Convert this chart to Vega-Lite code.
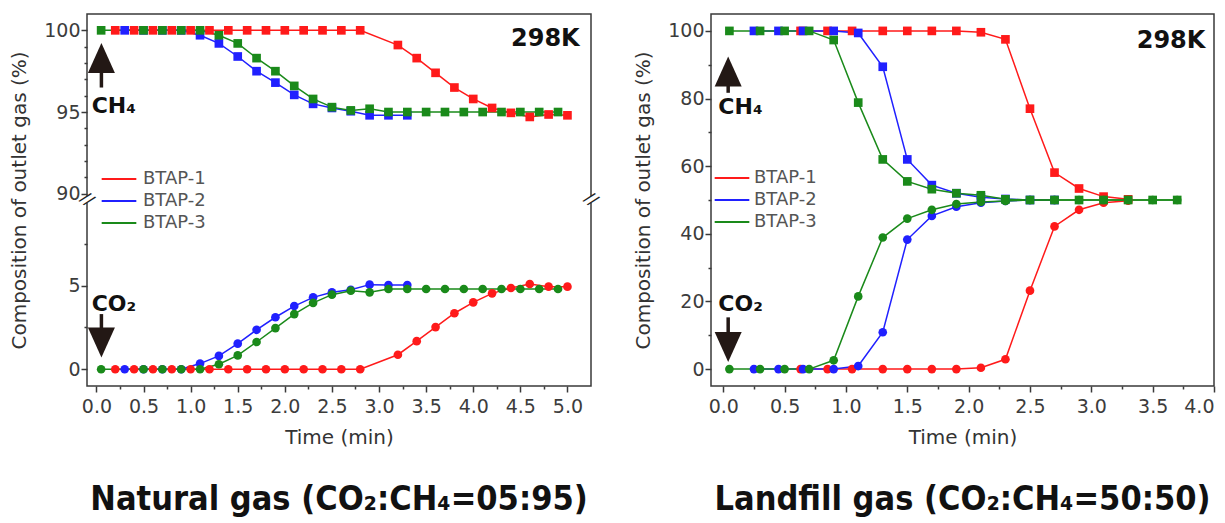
{
  "$schema": "https://vega.github.io/schema/vega-lite/v6.json",
  "background": "white",
  "padding": {"left": 8, "top": 13, "right": 10, "bottom": 5},
  "config": {
    "font": "DejaVu Sans",
    "view": {"stroke": "#3a3a3a", "strokeWidth": 1.5},
    "axis": {"domain": false, "grid": false, "labelFont": "DejaVu Sans", "labelFontSize": 19, "labelColor": "#3c3c3c", "titleFont": "DejaVu Sans", "titleFontSize": 20, "titleFontWeight": "normal", "titleColor": "#333333", "tickColor": "#3a3a3a", "tickWidth": 1.5},
    "title": {"font": "Liberation Sans Narrow, Arial Narrow, DejaVu Sans Condensed, Liberation Sans", "fontSize": 34, "fontWeight": "bold", "color": "#111111"}
  },
  "datasets": {
    "natural": [
      {"s":"BTAP-1","g":"CH4","t":0.2,"v":100},{"s":"BTAP-1","g":"CH4","t":0.4,"v":100},{"s":"BTAP-1","g":"CH4","t":0.6,"v":100},{"s":"BTAP-1","g":"CH4","t":0.8,"v":100},{"s":"BTAP-1","g":"CH4","t":1.0,"v":100},{"s":"BTAP-1","g":"CH4","t":1.2,"v":100},{"s":"BTAP-1","g":"CH4","t":1.4,"v":100},{"s":"BTAP-1","g":"CH4","t":1.6,"v":100},{"s":"BTAP-1","g":"CH4","t":1.8,"v":100},{"s":"BTAP-1","g":"CH4","t":2.0,"v":100},{"s":"BTAP-1","g":"CH4","t":2.2,"v":100},{"s":"BTAP-1","g":"CH4","t":2.4,"v":100},{"s":"BTAP-1","g":"CH4","t":2.6,"v":100},{"s":"BTAP-1","g":"CH4","t":2.8,"v":100},{"s":"BTAP-1","g":"CH4","t":3.2,"v":99.1},{"s":"BTAP-1","g":"CH4","t":3.4,"v":98.3},{"s":"BTAP-1","g":"CH4","t":3.6,"v":97.4},{"s":"BTAP-1","g":"CH4","t":3.8,"v":96.5},{"s":"BTAP-1","g":"CH4","t":4.0,"v":95.8},{"s":"BTAP-1","g":"CH4","t":4.2,"v":95.25},{"s":"BTAP-1","g":"CH4","t":4.4,"v":94.95},{"s":"BTAP-1","g":"CH4","t":4.6,"v":94.7},{"s":"BTAP-1","g":"CH4","t":4.8,"v":94.85},{"s":"BTAP-1","g":"CH4","t":5.0,"v":94.8},
      {"s":"BTAP-1","g":"CO2","t":0.2,"v":0},{"s":"BTAP-1","g":"CO2","t":0.4,"v":0},{"s":"BTAP-1","g":"CO2","t":0.6,"v":0},{"s":"BTAP-1","g":"CO2","t":0.8,"v":0},{"s":"BTAP-1","g":"CO2","t":1.0,"v":0},{"s":"BTAP-1","g":"CO2","t":1.2,"v":0},{"s":"BTAP-1","g":"CO2","t":1.4,"v":0},{"s":"BTAP-1","g":"CO2","t":1.6,"v":0},{"s":"BTAP-1","g":"CO2","t":1.8,"v":0},{"s":"BTAP-1","g":"CO2","t":2.0,"v":0},{"s":"BTAP-1","g":"CO2","t":2.2,"v":0},{"s":"BTAP-1","g":"CO2","t":2.4,"v":0},{"s":"BTAP-1","g":"CO2","t":2.6,"v":0},{"s":"BTAP-1","g":"CO2","t":2.8,"v":0},{"s":"BTAP-1","g":"CO2","t":3.2,"v":0.87},{"s":"BTAP-1","g":"CO2","t":3.4,"v":1.68},{"s":"BTAP-1","g":"CO2","t":3.6,"v":2.52},{"s":"BTAP-1","g":"CO2","t":3.8,"v":3.35},{"s":"BTAP-1","g":"CO2","t":4.0,"v":4.0},{"s":"BTAP-1","g":"CO2","t":4.2,"v":4.54},{"s":"BTAP-1","g":"CO2","t":4.4,"v":4.86},{"s":"BTAP-1","g":"CO2","t":4.6,"v":5.1},{"s":"BTAP-1","g":"CO2","t":4.8,"v":4.94},{"s":"BTAP-1","g":"CO2","t":5.0,"v":4.94},
      {"s":"BTAP-2","g":"CH4","t":0.3,"v":100},{"s":"BTAP-2","g":"CH4","t":0.5,"v":100},{"s":"BTAP-2","g":"CH4","t":0.7,"v":100},{"s":"BTAP-2","g":"CH4","t":0.9,"v":100},{"s":"BTAP-2","g":"CH4","t":1.1,"v":99.7},{"s":"BTAP-2","g":"CH4","t":1.3,"v":99.2},{"s":"BTAP-2","g":"CH4","t":1.5,"v":98.4},{"s":"BTAP-2","g":"CH4","t":1.7,"v":97.5},{"s":"BTAP-2","g":"CH4","t":1.9,"v":96.8},{"s":"BTAP-2","g":"CH4","t":2.1,"v":96.05},{"s":"BTAP-2","g":"CH4","t":2.3,"v":95.5},{"s":"BTAP-2","g":"CH4","t":2.5,"v":95.25},{"s":"BTAP-2","g":"CH4","t":2.7,"v":95.05},{"s":"BTAP-2","g":"CH4","t":2.9,"v":94.8},{"s":"BTAP-2","g":"CH4","t":3.1,"v":94.8},{"s":"BTAP-2","g":"CH4","t":3.3,"v":94.8},
      {"s":"BTAP-2","g":"CO2","t":0.3,"v":0},{"s":"BTAP-2","g":"CO2","t":0.5,"v":0},{"s":"BTAP-2","g":"CO2","t":0.7,"v":0},{"s":"BTAP-2","g":"CO2","t":0.9,"v":0},{"s":"BTAP-2","g":"CO2","t":1.1,"v":0.34},{"s":"BTAP-2","g":"CO2","t":1.3,"v":0.8},{"s":"BTAP-2","g":"CO2","t":1.5,"v":1.53},{"s":"BTAP-2","g":"CO2","t":1.7,"v":2.36},{"s":"BTAP-2","g":"CO2","t":1.9,"v":3.11},{"s":"BTAP-2","g":"CO2","t":2.1,"v":3.78},{"s":"BTAP-2","g":"CO2","t":2.3,"v":4.3},{"s":"BTAP-2","g":"CO2","t":2.5,"v":4.6},{"s":"BTAP-2","g":"CO2","t":2.7,"v":4.75},{"s":"BTAP-2","g":"CO2","t":2.9,"v":5.06},{"s":"BTAP-2","g":"CO2","t":3.1,"v":5.04},{"s":"BTAP-2","g":"CO2","t":3.3,"v":5.04},
      {"s":"BTAP-3","g":"CH4","t":0.05,"v":100},{"s":"BTAP-3","g":"CH4","t":0.5,"v":100},{"s":"BTAP-3","g":"CH4","t":0.7,"v":100},{"s":"BTAP-3","g":"CH4","t":0.9,"v":100},{"s":"BTAP-3","g":"CH4","t":1.1,"v":100},{"s":"BTAP-3","g":"CH4","t":1.3,"v":99.7},{"s":"BTAP-3","g":"CH4","t":1.5,"v":99.2},{"s":"BTAP-3","g":"CH4","t":1.7,"v":98.3},{"s":"BTAP-3","g":"CH4","t":1.9,"v":97.5},{"s":"BTAP-3","g":"CH4","t":2.1,"v":96.6},{"s":"BTAP-3","g":"CH4","t":2.3,"v":95.8},{"s":"BTAP-3","g":"CH4","t":2.5,"v":95.3},{"s":"BTAP-3","g":"CH4","t":2.7,"v":95.1},{"s":"BTAP-3","g":"CH4","t":2.9,"v":95.2},{"s":"BTAP-3","g":"CH4","t":3.1,"v":95.0},{"s":"BTAP-3","g":"CH4","t":3.3,"v":95.0},{"s":"BTAP-3","g":"CH4","t":3.5,"v":95.0},{"s":"BTAP-3","g":"CH4","t":3.7,"v":95.0},{"s":"BTAP-3","g":"CH4","t":3.9,"v":95.0},{"s":"BTAP-3","g":"CH4","t":4.1,"v":95.0},{"s":"BTAP-3","g":"CH4","t":4.3,"v":95.0},{"s":"BTAP-3","g":"CH4","t":4.5,"v":95.0},{"s":"BTAP-3","g":"CH4","t":4.7,"v":95.0},{"s":"BTAP-3","g":"CH4","t":4.9,"v":95.0},
      {"s":"BTAP-3","g":"CO2","t":0.05,"v":0},{"s":"BTAP-3","g":"CO2","t":0.5,"v":0},{"s":"BTAP-3","g":"CO2","t":0.7,"v":0},{"s":"BTAP-3","g":"CO2","t":0.9,"v":0},{"s":"BTAP-3","g":"CO2","t":1.1,"v":0},{"s":"BTAP-3","g":"CO2","t":1.3,"v":0.3},{"s":"BTAP-3","g":"CO2","t":1.5,"v":0.83},{"s":"BTAP-3","g":"CO2","t":1.7,"v":1.63},{"s":"BTAP-3","g":"CO2","t":1.9,"v":2.46},{"s":"BTAP-3","g":"CO2","t":2.1,"v":3.3},{"s":"BTAP-3","g":"CO2","t":2.3,"v":3.97},{"s":"BTAP-3","g":"CO2","t":2.5,"v":4.46},{"s":"BTAP-3","g":"CO2","t":2.7,"v":4.7},{"s":"BTAP-3","g":"CO2","t":2.9,"v":4.6},{"s":"BTAP-3","g":"CO2","t":3.1,"v":4.8},{"s":"BTAP-3","g":"CO2","t":3.3,"v":4.8},{"s":"BTAP-3","g":"CO2","t":3.5,"v":4.8},{"s":"BTAP-3","g":"CO2","t":3.7,"v":4.8},{"s":"BTAP-3","g":"CO2","t":3.9,"v":4.8},{"s":"BTAP-3","g":"CO2","t":4.1,"v":4.8},{"s":"BTAP-3","g":"CO2","t":4.3,"v":4.8},{"s":"BTAP-3","g":"CO2","t":4.5,"v":4.8},{"s":"BTAP-3","g":"CO2","t":4.7,"v":4.8},{"s":"BTAP-3","g":"CO2","t":4.9,"v":4.8}
    ],
    "landfill": [
      {"s":"BTAP-1","g":"CH4","t":0.63,"v":100},{"s":"BTAP-1","g":"CH4","t":0.85,"v":100},{"s":"BTAP-1","g":"CH4","t":1.05,"v":100},{"s":"BTAP-1","g":"CH4","t":1.3,"v":100},{"s":"BTAP-1","g":"CH4","t":1.5,"v":100},{"s":"BTAP-1","g":"CH4","t":1.7,"v":100},{"s":"BTAP-1","g":"CH4","t":1.9,"v":100},{"s":"BTAP-1","g":"CH4","t":2.1,"v":99.6},{"s":"BTAP-1","g":"CH4","t":2.3,"v":97.5},{"s":"BTAP-1","g":"CH4","t":2.5,"v":77.0},{"s":"BTAP-1","g":"CH4","t":2.7,"v":58.1},{"s":"BTAP-1","g":"CH4","t":2.9,"v":53.4},{"s":"BTAP-1","g":"CH4","t":3.1,"v":51.0},{"s":"BTAP-1","g":"CH4","t":3.3,"v":50.2},
      {"s":"BTAP-1","g":"CO2","t":0.63,"v":0},{"s":"BTAP-1","g":"CO2","t":0.85,"v":0},{"s":"BTAP-1","g":"CO2","t":1.05,"v":0},{"s":"BTAP-1","g":"CO2","t":1.3,"v":0},{"s":"BTAP-1","g":"CO2","t":1.5,"v":0},{"s":"BTAP-1","g":"CO2","t":1.7,"v":0},{"s":"BTAP-1","g":"CO2","t":1.9,"v":0},{"s":"BTAP-1","g":"CO2","t":2.1,"v":0.4},{"s":"BTAP-1","g":"CO2","t":2.3,"v":2.9},{"s":"BTAP-1","g":"CO2","t":2.5,"v":23.2},{"s":"BTAP-1","g":"CO2","t":2.7,"v":42.2},{"s":"BTAP-1","g":"CO2","t":2.9,"v":47.1},{"s":"BTAP-1","g":"CO2","t":3.1,"v":49.2},{"s":"BTAP-1","g":"CO2","t":3.3,"v":49.8},
      {"s":"BTAP-2","g":"CH4","t":0.25,"v":100},{"s":"BTAP-2","g":"CH4","t":0.45,"v":100},{"s":"BTAP-2","g":"CH4","t":0.65,"v":100},{"s":"BTAP-2","g":"CH4","t":0.9,"v":100},{"s":"BTAP-2","g":"CH4","t":1.1,"v":99.4},{"s":"BTAP-2","g":"CH4","t":1.3,"v":89.4},{"s":"BTAP-2","g":"CH4","t":1.5,"v":62.0},{"s":"BTAP-2","g":"CH4","t":1.7,"v":54.4},{"s":"BTAP-2","g":"CH4","t":1.9,"v":52.0},{"s":"BTAP-2","g":"CH4","t":2.1,"v":50.8},{"s":"BTAP-2","g":"CH4","t":2.3,"v":50.3},{"s":"BTAP-2","g":"CH4","t":2.5,"v":50.0},{"s":"BTAP-2","g":"CH4","t":2.7,"v":50.0},
      {"s":"BTAP-2","g":"CO2","t":0.25,"v":0},{"s":"BTAP-2","g":"CO2","t":0.45,"v":0},{"s":"BTAP-2","g":"CO2","t":0.65,"v":0},{"s":"BTAP-2","g":"CO2","t":0.9,"v":0},{"s":"BTAP-2","g":"CO2","t":1.1,"v":0.9},{"s":"BTAP-2","g":"CO2","t":1.3,"v":10.9},{"s":"BTAP-2","g":"CO2","t":1.5,"v":38.3},{"s":"BTAP-2","g":"CO2","t":1.7,"v":45.3},{"s":"BTAP-2","g":"CO2","t":1.9,"v":48.0},{"s":"BTAP-2","g":"CO2","t":2.1,"v":49.2},{"s":"BTAP-2","g":"CO2","t":2.3,"v":49.7},{"s":"BTAP-2","g":"CO2","t":2.5,"v":50.0},{"s":"BTAP-2","g":"CO2","t":2.7,"v":50.0},
      {"s":"BTAP-3","g":"CH4","t":0.05,"v":100},{"s":"BTAP-3","g":"CH4","t":0.3,"v":100},{"s":"BTAP-3","g":"CH4","t":0.5,"v":100},{"s":"BTAP-3","g":"CH4","t":0.7,"v":100},{"s":"BTAP-3","g":"CH4","t":0.9,"v":97.3},{"s":"BTAP-3","g":"CH4","t":1.1,"v":78.8},{"s":"BTAP-3","g":"CH4","t":1.3,"v":62.0},{"s":"BTAP-3","g":"CH4","t":1.5,"v":55.5},{"s":"BTAP-3","g":"CH4","t":1.7,"v":53.2},{"s":"BTAP-3","g":"CH4","t":1.9,"v":52.0},{"s":"BTAP-3","g":"CH4","t":2.1,"v":51.4},{"s":"BTAP-3","g":"CH4","t":2.3,"v":50.2},{"s":"BTAP-3","g":"CH4","t":2.5,"v":50},{"s":"BTAP-3","g":"CH4","t":2.7,"v":50},{"s":"BTAP-3","g":"CH4","t":2.9,"v":50},{"s":"BTAP-3","g":"CH4","t":3.1,"v":50},{"s":"BTAP-3","g":"CH4","t":3.3,"v":50},{"s":"BTAP-3","g":"CH4","t":3.5,"v":50},{"s":"BTAP-3","g":"CH4","t":3.7,"v":50},
      {"s":"BTAP-3","g":"CO2","t":0.05,"v":0},{"s":"BTAP-3","g":"CO2","t":0.3,"v":0},{"s":"BTAP-3","g":"CO2","t":0.5,"v":0},{"s":"BTAP-3","g":"CO2","t":0.7,"v":0},{"s":"BTAP-3","g":"CO2","t":0.9,"v":2.6},{"s":"BTAP-3","g":"CO2","t":1.1,"v":21.5},{"s":"BTAP-3","g":"CO2","t":1.3,"v":38.9},{"s":"BTAP-3","g":"CO2","t":1.5,"v":44.5},{"s":"BTAP-3","g":"CO2","t":1.7,"v":47.1},{"s":"BTAP-3","g":"CO2","t":1.9,"v":48.8},{"s":"BTAP-3","g":"CO2","t":2.1,"v":49.4},{"s":"BTAP-3","g":"CO2","t":2.3,"v":49.7},{"s":"BTAP-3","g":"CO2","t":2.5,"v":50},{"s":"BTAP-3","g":"CO2","t":2.7,"v":50},{"s":"BTAP-3","g":"CO2","t":2.9,"v":50},{"s":"BTAP-3","g":"CO2","t":3.1,"v":50},{"s":"BTAP-3","g":"CO2","t":3.3,"v":50},{"s":"BTAP-3","g":"CO2","t":3.5,"v":50},{"s":"BTAP-3","g":"CO2","t":3.7,"v":50}
    ],
    "notesL": [
      {"kind":"temp","t":5.13,"v":99.5,"label":"298K"},
      {"kind":"gas","t":-0.05,"v":95.4,"label":"CH₄"},
      {"kind":"gas","t":-0.05,"v":3.9,"label":"CO₂"},
      {"kind":"stem","t":0.053,"v":96.5,"v2":97.8},
      {"kind":"stem","t":0.053,"v":3.3,"v2":2.2},
      {"kind":"up","t":0.053,"v":98.3},
      {"kind":"down","t":0.053,"v":1.6},
      {"kind":"brk","t":-0.1,"v":50},
      {"kind":"brk","t":5.25,"v":50}
    ],
    "notesR": [
      {"kind":"temp","t":3.93,"v":97,"label":"298K"},
      {"kind":"gas","t":-0.04,"v":77.6,"label":"CH₄"},
      {"kind":"gas","t":-0.04,"v":19.2,"label":"CO₂"},
      {"kind":"stem","t":0.04,"v":81.7,"v2":85.5},
      {"kind":"stem","t":0.04,"v":15.3,"v2":10.5},
      {"kind":"up","t":0.04,"v":88.0},
      {"kind":"down","t":0.04,"v":6.5}
    ]
  },
  "spacing": 30,
  "resolve": {"scale": {"x": "independent", "y": "independent", "color": "independent", "shape": "independent"}, "legend": {"color": "independent"}},
  "hconcat": [
    {
      "width": 504,
      "height": 372,
      "title": {"text": "Natural gas (CO₂:CH₄=05:95)", "orient": "bottom", "frame": "group", "anchor": "middle", "offset": 36},
      "encoding": {
        "x": {"field": "t", "type": "quantitative", "scale": {"domain": [-0.1, 5.25], "nice": false, "zero": false},
          "axis": {"title": "Time (min)", "values": [0,0.25,0.5,0.75,1,1.25,1.5,1.75,2,2.25,2.5,2.75,3,3.25,3.5,3.75,4,4.25,4.5,4.75,5],
            "labelExpr": "abs(datum.value*2 - round(datum.value*2)) < 0.01 ? format(datum.value, '.1f') : ''",
            "tickSize": {"condition": {"test": "abs(datum.value*2 - round(datum.value*2)) < 0.01", "value": 6}, "value": 3},
            "labelPadding": 5, "titlePadding": 11}},
        "y": {"field": "v", "type": "quantitative", "scale": {"domain": [-1, 10, 89.8, 101], "range": [372, 188, 183, 0], "nice": false, "zero": false},
          "axis": {"title": "Composition of outlet gas (%)", "values": [0,2.5,5,7.5,90,91,92,93,94,95,96,97,98,99,100],
            "labelExpr": "datum.value % 5 === 0 ? format(datum.value, 'd') : ''",
            "tickSize": {"condition": {"test": "datum.value % 5 === 0", "value": 6}, "value": 3},
            "labelPadding": 1, "titlePadding": 14}}
      },
      "layer": [
        {"data": {"name": "natural"}, "mark": {"type": "line", "strokeWidth": 1.5},
          "encoding": {"color": {"field": "s", "type": "nominal", "scale": {"domain": ["BTAP-1","BTAP-2","BTAP-3"], "range": ["#ff1a1a","#2020ff","#1a8a1a"]},
            "legend": {"orient": "none", "legendX": 22, "legendY": 155, "title": null, "symbolType": "M-2,0L2,0", "symbolSize": 300, "symbolStrokeWidth": 2, "labelFontSize": 18, "labelColor": "#555555", "labelFont": "DejaVu Sans", "labelOffset": 14, "rowPadding": 3}},
            "detail": {"field": "g"}}},
        {"data": {"name": "natural"}, "mark": {"type": "point", "filled": true, "opacity": 1, "size": 75},
          "encoding": {"color": {"field": "s", "type": "nominal", "scale": {"domain": ["BTAP-1","BTAP-2","BTAP-3"], "range": ["#ff1a1a","#2020ff","#1a8a1a"]},
            "legend": {"orient": "none", "legendX": 22, "legendY": 155, "title": null, "symbolType": "M-2,0L2,0", "symbolSize": 300, "symbolStrokeWidth": 2, "labelFontSize": 18, "labelColor": "#555555", "labelFont": "DejaVu Sans", "labelOffset": 14, "rowPadding": 3}},
            "shape": {"field": "g", "type": "nominal", "scale": {"domain": ["CH4","CO2"], "range": ["square","circle"]}, "legend": null}}},
        {"data": {"name": "notesL"}, "transform": [{"filter": "datum.kind === 'stem'"}], "mark": {"type": "rule", "strokeWidth": 3.5, "color": "#231815"}, "encoding": {"y2": {"field": "v2"}}},
        {"data": {"name": "notesL"}, "transform": [{"filter": "datum.kind === 'up'"}], "mark": {"type": "point", "filled": true, "opacity": 1, "color": "#231815", "size": 900, "shape": "M0,-1L0.9,1L-0.9,1Z"}, "encoding": {}},
        {"data": {"name": "notesL"}, "transform": [{"filter": "datum.kind === 'down'"}], "mark": {"type": "point", "filled": true, "opacity": 1, "color": "#231815", "size": 900, "shape": "M0,1L0.9,-1L-0.9,-1Z"}, "encoding": {}},
        {"data": {"name": "notesL"}, "transform": [{"filter": "datum.kind === 'gas'"}], "mark": {"type": "text", "align": "left", "baseline": "middle", "fontSize": 22, "fontWeight": "bold", "font": "DejaVu Sans", "color": "#111111"}, "encoding": {"text": {"field": "label"}}},
        {"data": {"name": "notesL"}, "transform": [{"filter": "datum.kind === 'temp'"}], "mark": {"type": "text", "align": "right", "baseline": "middle", "fontSize": 24, "fontWeight": "bold", "font": "DejaVu Sans", "color": "#111111"}, "encoding": {"text": {"field": "label"}}},
        {"data": {"name": "notesL"}, "transform": [{"filter": "datum.kind === 'brk'"}], "mark": {"type": "point", "filled": true, "opacity": 1, "color": "white", "size": 50, "shape": "square"}, "encoding": {}},
        {"data": {"name": "notesL"}, "transform": [{"filter": "datum.kind === 'brk'"}], "mark": {"type": "text", "align": "center", "baseline": "middle", "fontSize": 17, "angle": 40, "color": "#222222", "text": "//"}, "encoding": {}}
      ]
    },
    {
      "width": 503,
      "height": 372,
      "title": {"text": "Landfill gas (CO₂:CH₄=50:50)", "orient": "bottom", "frame": "group", "anchor": "middle", "offset": 36},
      "encoding": {
        "x": {"field": "t", "type": "quantitative", "scale": {"domain": [-0.1, 4.0], "nice": false, "zero": false},
          "axis": {"title": "Time (min)", "values": [0,0.25,0.5,0.75,1,1.25,1.5,1.75,2,2.25,2.5,2.75,3,3.25,3.5,3.75,4],
            "labelExpr": "abs(datum.value*2 - round(datum.value*2)) < 0.01 ? format(datum.value, '.1f') : ''",
            "tickSize": {"condition": {"test": "abs(datum.value*2 - round(datum.value*2)) < 0.01", "value": 6}, "value": 3},
            "labelPadding": 5, "titlePadding": 11}},
        "y": {"field": "v", "type": "quantitative", "scale": {"domain": [-5, 105], "nice": false, "zero": false},
          "axis": {"title": "Composition of outlet gas (%)", "values": [0,10,20,30,40,50,60,70,80,90,100],
            "labelExpr": "datum.value % 20 === 0 ? format(datum.value, 'd') : ''",
            "tickSize": {"condition": {"test": "datum.value % 20 === 0", "value": 6}, "value": 3},
            "labelPadding": 1, "titlePadding": 14}}
      },
      "layer": [
        {"data": {"name": "landfill"}, "mark": {"type": "line", "strokeWidth": 1.5},
          "encoding": {"color": {"field": "s", "type": "nominal", "scale": {"domain": ["BTAP-1","BTAP-2","BTAP-3"], "range": ["#ff1a1a","#2020ff","#1a8a1a"]},
            "legend": {"orient": "none", "legendX": 11, "legendY": 154, "title": null, "symbolType": "M-2,0L2,0", "symbolSize": 300, "symbolStrokeWidth": 2, "labelFontSize": 18, "labelColor": "#555555", "labelFont": "DejaVu Sans", "labelOffset": 12, "rowPadding": 3}},
            "detail": {"field": "g"}}},
        {"data": {"name": "landfill"}, "mark": {"type": "point", "filled": true, "opacity": 1, "size": 75},
          "encoding": {"color": {"field": "s", "type": "nominal", "scale": {"domain": ["BTAP-1","BTAP-2","BTAP-3"], "range": ["#ff1a1a","#2020ff","#1a8a1a"]},
            "legend": {"orient": "none", "legendX": 11, "legendY": 154, "title": null, "symbolType": "M-2,0L2,0", "symbolSize": 300, "symbolStrokeWidth": 2, "labelFontSize": 18, "labelColor": "#555555", "labelFont": "DejaVu Sans", "labelOffset": 12, "rowPadding": 3}},
            "shape": {"field": "g", "type": "nominal", "scale": {"domain": ["CH4","CO2"], "range": ["square","circle"]}, "legend": null}}},
        {"data": {"name": "notesR"}, "transform": [{"filter": "datum.kind === 'stem'"}], "mark": {"type": "rule", "strokeWidth": 3.5, "color": "#231815"}, "encoding": {"y2": {"field": "v2"}}},
        {"data": {"name": "notesR"}, "transform": [{"filter": "datum.kind === 'up'"}], "mark": {"type": "point", "filled": true, "opacity": 1, "color": "#231815", "size": 900, "shape": "M0,-1L0.9,1L-0.9,1Z"}, "encoding": {}},
        {"data": {"name": "notesR"}, "transform": [{"filter": "datum.kind === 'down'"}], "mark": {"type": "point", "filled": true, "opacity": 1, "color": "#231815", "size": 900, "shape": "M0,1L0.9,-1L-0.9,-1Z"}, "encoding": {}},
        {"data": {"name": "notesR"}, "transform": [{"filter": "datum.kind === 'gas'"}], "mark": {"type": "text", "align": "left", "baseline": "middle", "fontSize": 22, "fontWeight": "bold", "font": "DejaVu Sans", "color": "#111111"}, "encoding": {"text": {"field": "label"}}},
        {"data": {"name": "notesR"}, "transform": [{"filter": "datum.kind === 'temp'"}], "mark": {"type": "text", "align": "right", "baseline": "middle", "fontSize": 24, "fontWeight": "bold", "font": "DejaVu Sans", "color": "#111111"}, "encoding": {"text": {"field": "label"}}}
      ]
    }
  ]
}
